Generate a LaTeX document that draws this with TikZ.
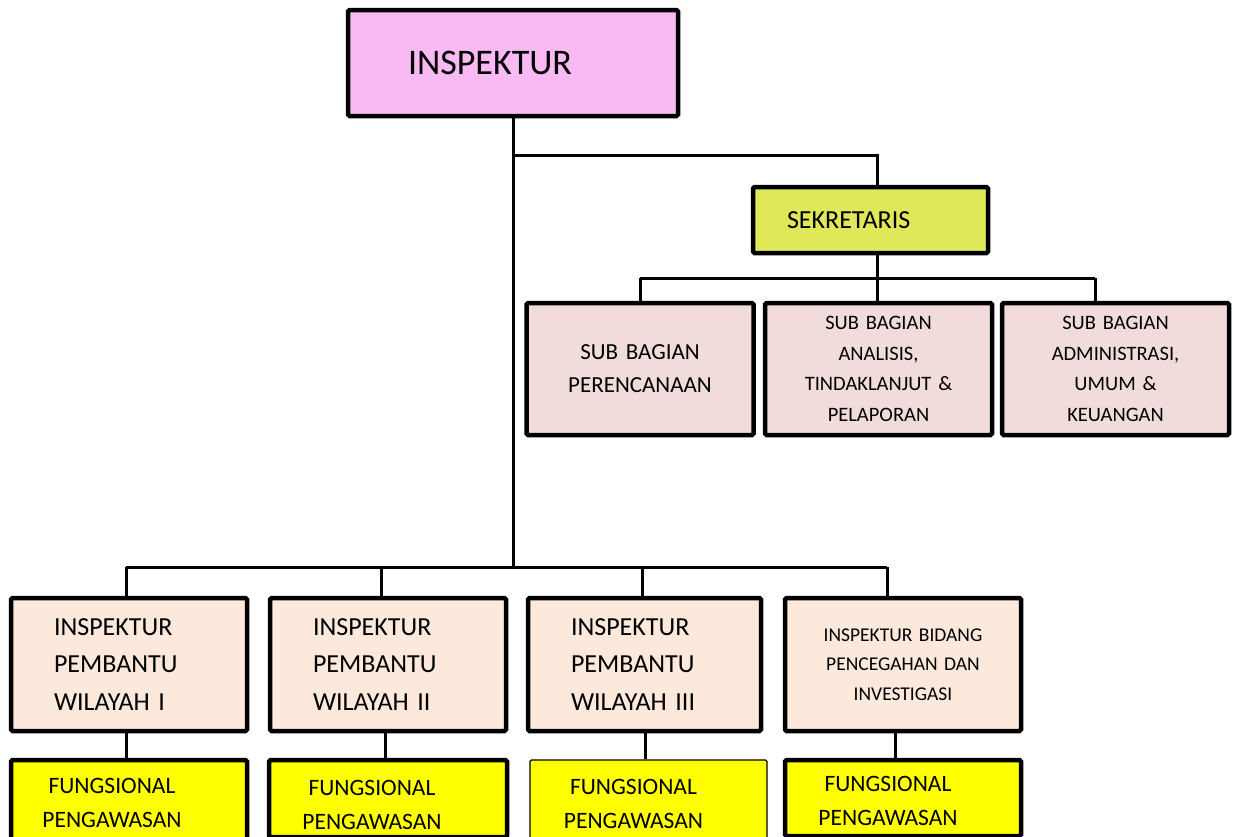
\documentclass[tikz,border=0pt]{standalone}
\usepackage{fontspec}
\setmainfont{Carlito}
\usepackage{xcolor}
\usepackage{tikz}

\definecolor{pinkbox}{HTML}{F9B9F2}
\definecolor{limebox}{HTML}{DFE859}
\definecolor{rosebox}{HTML}{F2DCDB}
\definecolor{peachbox}{HTML}{FCE9DB}
\definecolor{yellowbox}{HTML}{FFFF00}

\begin{document}
\begin{tikzpicture}[x=1pt,y=-1pt,
  orgbox/.style={draw=black,line width=4.5pt,rounded corners=1.5pt,inner sep=0pt},
  conn/.style={draw=black,line width=3pt},
  subbox/.style={orgbox,fill=rosebox,minimum height=132pt,text width=209pt,inner xsep=9pt,align=center},
  rowbox/.style={orgbox,fill=peachbox,minimum height=133pt,text width=150pt,inner xsep=43pt,align=left,font=\fontsize{26}{37.5}\selectfont},
  funcbox/.style={orgbox,fill=yellowbox,minimum width=236pt},
  functext/.style={align=center,inner sep=0pt,font=\fontsize{23.5}{34}\selectfont}]
\useasboundingbox (0,0) rectangle (1236,836);
\clip (0,0) rectangle (1236,836);

\node[orgbox,fill=pinkbox,minimum height=106pt,text width=210pt,inner xsep=60pt,align=left,font=\fontsize{36}{43}\selectfont] (insp) at (513,63) {INSPEKTUR};
\node[orgbox,fill=limebox,minimum height=66pt,text width=167pt,inner xsep=34pt,align=left,font=\fontsize{26}{31}\selectfont] (sekr) at (870.5,220) {SEKRETARIS};

\node[subbox,font=\fontsize{23}{33}\selectfont] (sub1) at (640,369) {SUB BAGIAN\\PERENCANAAN};
\node[subbox,font=\fontsize{20.5}{30.5}\selectfont] (sub2) at (878.5,369) {SUB BAGIAN\\ANALISIS,\\TINDAKLANJUT \&\\PELAPORAN};
\node[subbox,font=\fontsize{20.5}{30.5}\selectfont] (sub3) at (1115.5,369) {SUB BAGIAN\\ADMINISTRASI,\\UMUM \&\\KEUANGAN};

\node[rowbox] (row1) at (129,664.5) {INSPEKTUR\\PEMBANTU\\WILAYAH I};
\node[rowbox] (row2) at (388,664.5) {INSPEKTUR\\PEMBANTU\\WILAYAH II};
\node[rowbox,text width=147pt] (row3) at (644.5,664.5) {INSPEKTUR\\PEMBANTU\\WILAYAH III};
\node[rowbox,text width=220pt,inner xsep=8pt,align=center,font=\fontsize{19.5}{29.5}\selectfont] (row4) at (903,664.5) {INSPEKTUR BIDANG\\PENCEGAHAN DAN\\INVESTIGASI};

\node[funcbox,minimum height=90pt] (yel1) at (129,805) {};
\node[funcbox,minimum width=238pt,minimum height=77pt] (yel2) at (388,798.5) {};
\node[funcbox,line width=1.2pt,minimum width=237pt,minimum height=90pt] (yel3) at (648.5,805) {};
\node[funcbox,minimum height=76pt] (yel4) at (903,798) {};
\node[functext] (fun1) at ([xshift=-17pt,yshift=-45pt]yel1.north) {FUNGSIONAL\\PENGAWASAN};
\node[functext] (fun2) at ([xshift=-16pt,yshift=-47pt]yel2.north) {FUNGSIONAL\\PENGAWASAN};
\node[functext] (fun3) at ([xshift=-15pt,yshift=-45pt]yel3.north) {FUNGSIONAL\\PENGAWASAN};
\node[functext] (fun4) at ([xshift=-15pt,yshift=-43pt]yel4.north) {FUNGSIONAL\\PENGAWASAN};

\coordinate (sk) at (513,155);
\coordinate (bus) at (513,567);
\coordinate (d1) at (126,567);
\coordinate (d2) at (381,567);
\coordinate (d3) at (642,567);
\coordinate (d4) at (887,567);
\coordinate (s0) at (877,278);
\coordinate (s1) at (640,278);
\coordinate (s3) at (1095,278);

\draw[conn] (insp.south) -- (bus);
\draw[conn] (sk) -| ([xshift=6.5pt]sekr.north);
\draw[conn] ([xshift=6.5pt]sekr.south) -- (s0);
\draw[conn] (s1) -- (s3);
\draw[conn] (s1) -- (s1 |- sub1.north);
\draw[conn] (s0) -- (s0 |- sub2.north);
\draw[conn] (s3) -- (s3 |- sub3.north);
\draw[conn] (d1) -- (d4);
\draw[conn] (d1) -- (d1 |- row1.north);
\draw[conn] (d2) -- (d2 |- row2.north);
\draw[conn] (d3) -- (d3 |- row3.north);
\draw[conn] (d4) -- (d4 |- row4.north);
\draw[conn] ([xshift=-3pt]row1.south) -- ([xshift=-3pt]row1.south |- yel1.north);
\draw[conn] ([xshift=-3pt]row2.south) -- ([xshift=-3pt]row2.south |- yel2.north);
\draw[conn] ([xshift=0.5pt]row3.south) -- ([xshift=0.5pt]row3.south |- yel3.north);
\draw[conn] ([xshift=-8pt]row4.south) -- ([xshift=-8pt]row4.south |- yel4.north);
\end{tikzpicture}
\end{document}
